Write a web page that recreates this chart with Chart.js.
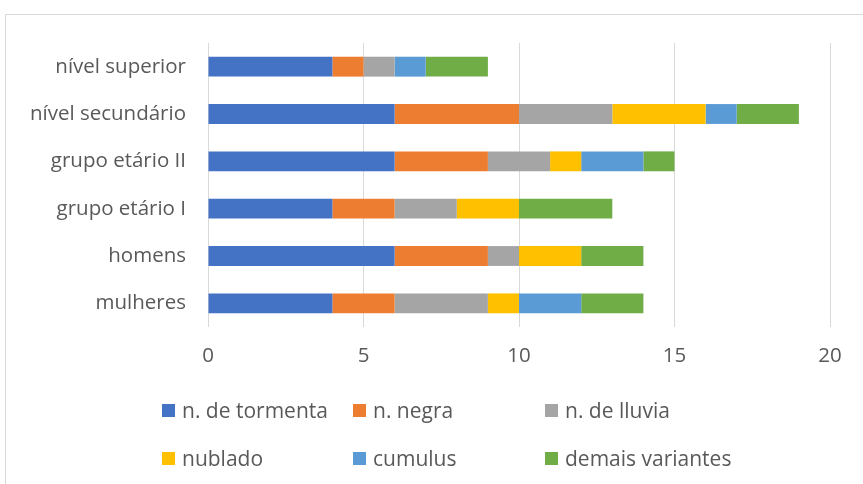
<!DOCTYPE html>
<html>
<head>
<meta charset="utf-8">
<script src="https://cdn.jsdelivr.net/npm/chart.js@4/dist/chart.umd.min.js"></script>
<style>
  body { margin: 0; background: #fff; overflow: hidden; }
  .frame { position: absolute; left: 5px; top: 14px; width: 900px; height: 500px; border: 1px solid #d9d9d9; }
  #wrap { position: absolute; left: 0; top: 0; width: 863px; height: 484px; }
  .legend { position: absolute; left: 162px; top: 398px; display: grid; grid-template-columns: 191px 192px 230px; row-gap: 24px; font-family: "Open Sans", sans-serif; font-size: 21px; color: #595959; }
  .legend div { display: flex; align-items: center; height: 24px; white-space: nowrap; }
  .legend span.box { display: inline-block; width: 13px; height: 13px; margin-right: 7px; }
</style>
</head>
<body>
<div class="frame"></div>
<div id="wrap"><canvas id="myChart" width="863" height="484"></canvas></div>
<div class="legend"></div>
<script>
const categories = ['nível superior', 'nível secundário', 'grupo etário II', 'grupo etário I', 'homens', 'mulheres'];
const seriesNames = ['n. de tormenta', 'n. negra', 'n. de lluvia', 'nublado', 'cumulus', 'demais variantes'];
const colors = ['#4472C4', '#ED7D31', '#A5A5A5', '#FFC000', '#5B9BD5', '#70AD47'];

const tormenta = [4, 6, 6, 4, 6, 4];
const negra    = [1, 4, 3, 2, 3, 2];
const lluvia   = [1, 3, 2, 2, 1, 3];
const nublado  = [0, 3, 1, 2, 2, 1];
const cumulus  = [1, 1, 2, 0, 0, 2];
const demais   = [2, 2, 1, 3, 2, 2];

const xTicks = [0, 5, 10, 15, 20];

const allValues = [tormenta, negra, lluvia, nublado, cumulus, demais];

const textColor = '#595959';
const fontFamily = '"Open Sans", sans-serif';

const ctx = document.getElementById('myChart').getContext('2d');

const chart = new Chart(ctx, {
  type: 'bar',
  data: {
    labels: categories,
    datasets: allValues.map((vals, i) => ({
      label: seriesNames[i],
      data: vals,
      backgroundColor: colors[i],
      borderWidth: 0,
      barPercentage: 0.42,
      categoryPercentage: 1
    }))
  },
  options: {
    indexAxis: 'y',
    responsive: false,
    animation: false,
    layout: { padding: { left: 0, top: 43, right: 33, bottom: 97 } },
    plugins: {
      legend: { display: false },
      tooltip: { enabled: false }
    },
    scales: {
      x: {
        stacked: true,
        min: 0,
        max: 20,
        afterBuildTicks: axis => { axis.ticks = xTicks.map(v => ({ value: v })); },
        afterFit: axis => { axis.height = 60; },
        grid: { color: '#d9d9d9', lineWidth: 1, drawTicks: false },
        border: { display: false },
        ticks: { padding: 17, color: textColor, font: { family: fontFamily, size: 20.5 } }
      },
      y: {
        stacked: true,
        afterFit: axis => { axis.width = 208; },
        grid: { display: false, drawTicks: false },
        border: { display: false },
        ticks: { padding: 22, color: textColor, font: { family: fontFamily, size: 20.5 } }
      }
    }
  }
});

// legend, 3 columns like the original
const legend = document.querySelector('.legend');
seriesNames.forEach(function(name, i){
  const item = document.createElement('div');
  item.innerHTML = `<span class="box" style="background:${colors[i]}"></span>${name}`;
  legend.append(item);
});
</script>
</body>
</html>
